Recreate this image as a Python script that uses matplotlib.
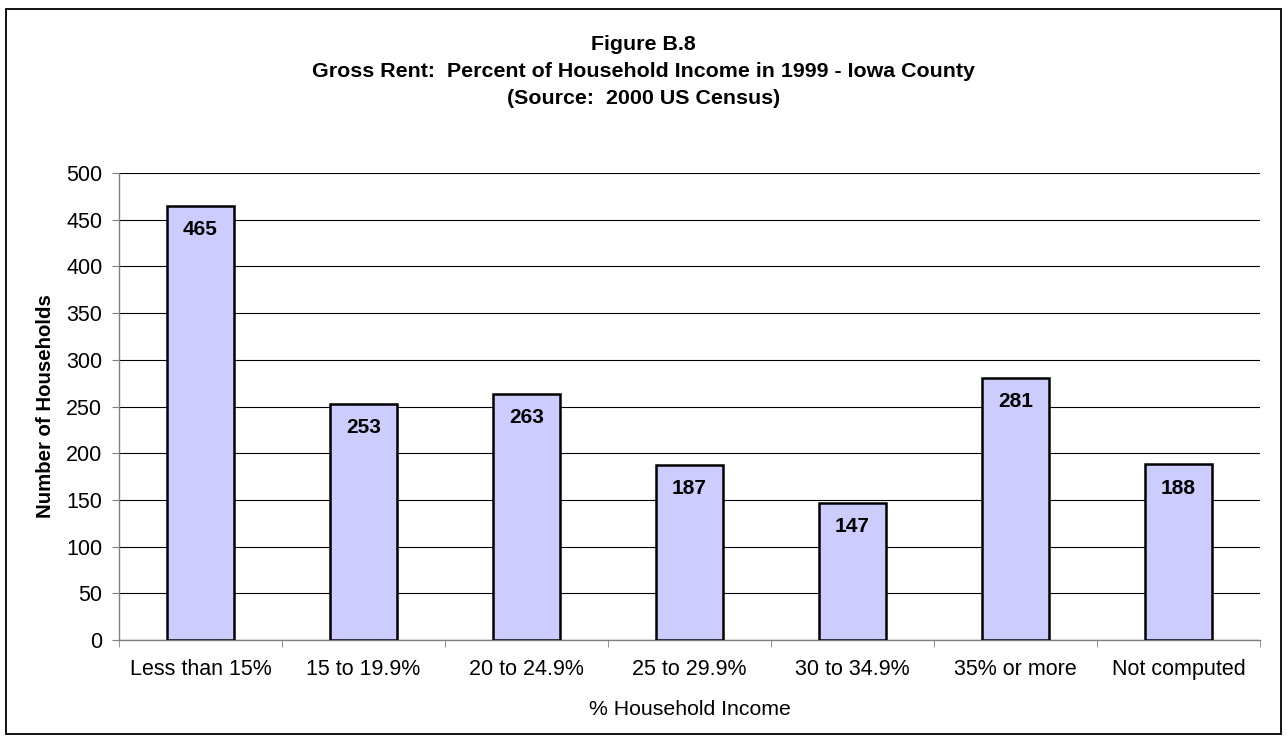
import matplotlib.pyplot as plt
import numpy as np
from matplotlib.patches import Rectangle

plt.rcParams['font.family'] = ['Liberation Sans', 'DejaVu Sans']

# rent as share of household income, 1999
categories = ["Less than 15%", "15 to 19.9%", "20 to 24.9%", "25 to 29.9%",
              "30 to 34.9%", "35% or more", "Not computed"]
households = [465, 253, 263, 187, 147, 281, 188]
y_ticks = [0, 50, 100, 150, 200, 250, 300, 350, 400, 450, 500]
title_lines = ["Figure B.8",
               "Gross Rent:  Percent of Household Income in 1999 - Iowa County",
               "(Source:  2000 US Census)"]

W, H = 1287, 741
fig = plt.figure(figsize=(W / 100, H / 100), dpi=100)
ax = fig.add_axes([119 / W, 1 - 640 / H, (1260 - 119) / W, (640 - 173) / H])

# outer frame around the whole chart
fig.patches.append(Rectangle((6 / W, 1 - 734 / H), (1281 - 6) / W, (734 - 9) / H,
                             transform=fig.transFigure, fill=False,
                             edgecolor='black', linewidth=1.3))

x = np.arange(len(categories))
ax.bar(x, households, width=0.405, color='#ccccff', edgecolor='black',
       linewidth=1.8, zorder=3)

for xi, v in zip(x, households):
    ax.annotate(str(v), (xi, v), xytext=(0, -17), textcoords='offset points',
                ha='center', va='center', fontsize=15, fontweight='bold', zorder=4)

ax.set_xlim(-0.5, len(categories) - 0.5)
ax.set_ylim(0, 500)
ax.set_yticks(y_ticks)
ax.set_yticklabels([str(t) for t in y_ticks], fontsize=15.5)
ax.yaxis.grid(True, color='black', linewidth=0.8)
ax.set_axisbelow(True)

ax.set_xticks(x)
ax.set_xticklabels(categories, fontsize=15.5)
ax.set_xticks(np.arange(-0.5, len(categories)), minor=True)
ax.tick_params(axis='x', which='major', length=0, pad=14)
ax.tick_params(axis='x', which='minor', length=5, color='#808080')
ax.tick_params(axis='y', length=5, color='#808080', pad=7)

for s in ['top', 'right']:
    ax.spines[s].set_visible(False)
for s in ['left', 'bottom']:
    ax.spines[s].set_color('#808080')
    ax.spines[s].set_linewidth(1.0)

ax.set_xlabel("% Household Income", fontsize=15.3, labelpad=14)
ax.set_ylabel("Number of Households", fontsize=14.7, fontweight='bold', labelpad=8)

for i, line in enumerate(title_lines):
    fig.text(0.5, 1 - (45 + 26.5 * i) / H, line, ha='center', va='center',
             fontsize=15.4, fontweight='bold')

fig.savefig("out.png", dpi=100)
